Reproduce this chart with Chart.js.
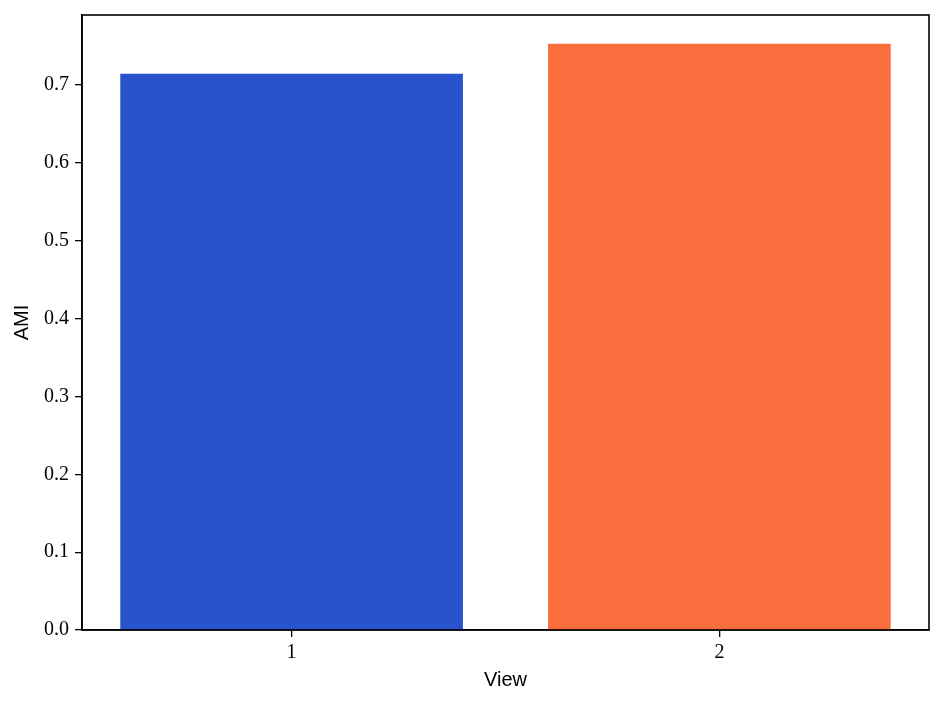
<!DOCTYPE html>
<html>
<head>
<meta charset="utf-8">
<script src="https://cdn.jsdelivr.net/npm/chart.js@4/dist/chart.umd.min.js"></script>
<style>
  html, body { margin: 0; padding: 0; background: #fff; }
  #wrap { width: 945px; height: 705px; }
</style>
</head>
<body>
<div id="wrap"><canvas id="chart" width="945" height="705"></canvas></div>
<script>
const views = [1, 2];
const ami = [0.714, 0.7525];
const barColors = ['#2953cc', '#fa6d3c'];
const yTicks = [0.0, 0.1, 0.2, 0.3, 0.4, 0.5, 0.6, 0.7];

const tickFont = { family: 'Liberation Serif', size: 20 };
const titleFont = { family: 'Liberation Sans', size: 20 };

// draws the top and right sides of the frame
const framePlugin = {
    id: 'frame',
    afterDraw(chart) {
        const a = chart.chartArea;
        const ctx = chart.ctx;
        ctx.save();
        ctx.strokeStyle = '#000';
        ctx.lineWidth = 1.6;
        ctx.strokeRect(a.left, a.top, a.right - a.left, a.bottom - a.top);
        ctx.restore();
    }
};

new Chart(document.getElementById('chart'), {
    type: 'bar',
    data: {
        datasets: [{
            data: views.map((v, i) => ({ x: v, y: ami[i] })),
            backgroundColor: barColors,
            barThickness: 342,
            borderWidth: 0
        }]
    },
    options: {
        responsive: false,
        animation: false,
        layout: { padding: { left: 0, top: 15, right: 16, bottom: 0 } },
        plugins: {
            legend: { display: false },
            tooltip: { enabled: false }
        },
        scales: {
            x: {
                type: 'linear',
                min: 0.51,
                max: 2.49,
                offset: false,
                afterBuildTicks: (scale) => { scale.ticks = views.map(v => ({ value: v })); },
                afterFit: (scale) => { scale.height = 75; scale.paddingLeft = 0; scale.paddingRight = 0; },
                grid: { drawOnChartArea: false, color: '#000', tickLength: 7, lineWidth: 1.3, offset: false },
                border: { color: '#000', width: 1.6 },
                ticks: { color: '#000', font: tickFont, padding: 4, maxRotation: 0,
                          callback: (v) => String(v) },
                title: { display: true, text: 'View', color: '#000', font: titleFont, padding: { top: 0, bottom: 13 } }
            },
            y: {
                min: 0,
                max: 0.79,
                afterBuildTicks: (scale) => { scale.ticks = yTicks.map(v => ({ value: v })); },
                afterFit: (scale) => { scale.width = 82; scale.paddingTop = 0; scale.paddingBottom = 0; },
                grid: { drawOnChartArea: false, color: '#000', tickLength: 7, lineWidth: 1.3 },
                border: { color: '#000', width: 1.6 },
                ticks: { color: '#000', font: tickFont, padding: 6,
                          callback: (v) => Number(v).toFixed(1) },
                title: { display: true, text: 'AMI', color: '#000', font: titleFont, padding: { top: 10, bottom: 0 } }
            }
        }
    },
    plugins: [framePlugin]
});
</script>
</body>
</html>
